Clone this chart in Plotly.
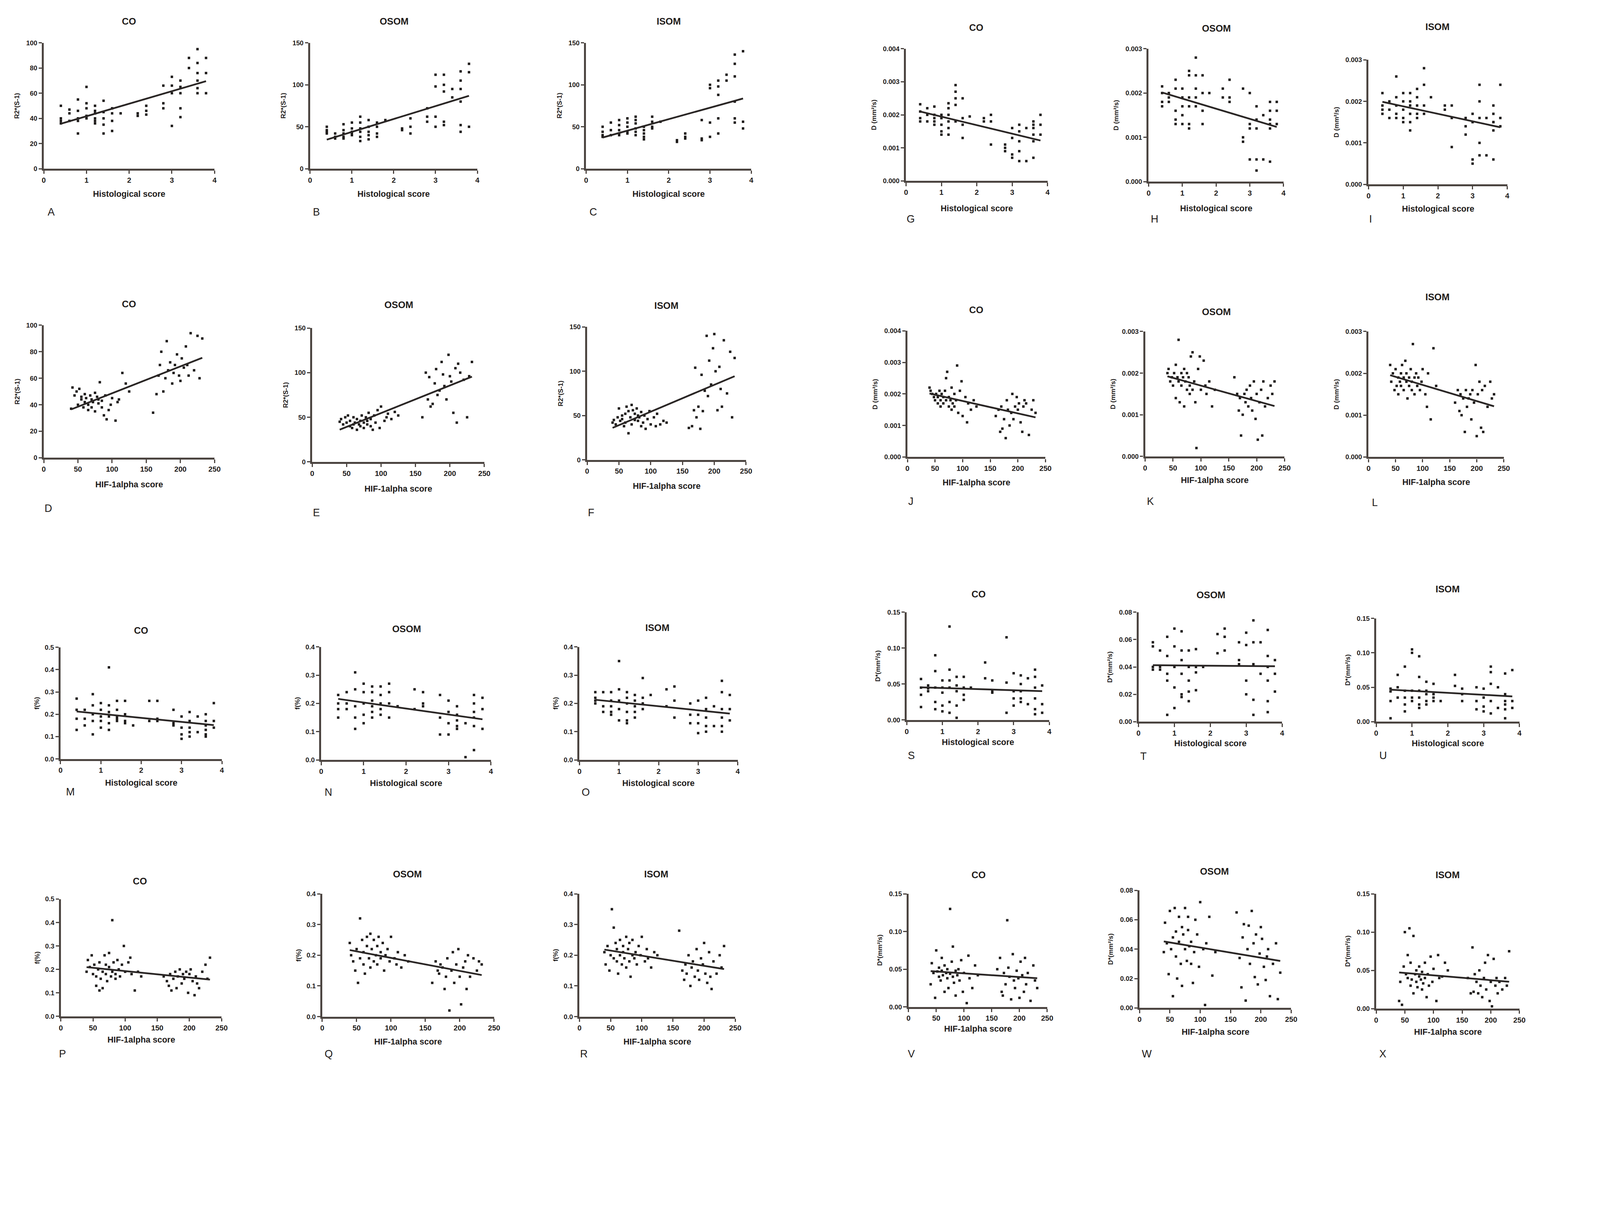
import numpy as np
import plotly.graph_objects as go

# x values shared by the panels: histological score (rows 1, 3) and HIF-1alpha score (rows 2, 4)
HIST = [0.4, 0.4, 0.4, 0.4, 0.6, 0.6, 0.6, 0.8, 0.8, 0.8, 0.8, 0.8,
        1.0, 1.0, 1.0, 1.0, 1.0, 1.2, 1.2, 1.2, 1.2, 1.2, 1.2,
        1.4, 1.4, 1.4, 1.4, 1.4, 1.6, 1.6, 1.6, 1.6, 1.8, 2.2, 2.2,
        2.4, 2.4, 2.4, 2.8, 2.8, 2.8, 3.0, 3.0, 3.0, 3.0,
        3.2, 3.2, 3.2, 3.2, 3.2, 3.4, 3.4, 3.6, 3.6, 3.6, 3.6, 3.6, 3.6,
        3.8, 3.8, 3.8]
HIF = [40, 42, 45, 48, 50, 52, 55, 55, 58, 60, 60, 62, 65, 65, 68, 70, 70, 72, 75, 75,
       78, 80, 80, 82, 85, 85, 88, 90, 92, 95, 98, 100, 105, 108, 110, 115, 120, 125,
       160, 165, 168, 170, 172, 175, 178, 180, 182, 185, 188, 190, 192, 195, 198, 200,
       202, 205, 208, 210, 212, 215, 220, 225, 228, 232]

# R2* (s-1)
R2_CO_HIST = [50, 40, 38, 36, 47, 44, 38, 55, 46, 40, 38, 28, 65, 52, 48, 42, 40,
              50, 46, 44, 40, 38, 36, 54, 45, 40, 35, 28, 48, 44, 38, 30, 44, 44, 42,
              50, 46, 43, 66, 52, 48, 73, 66, 60, 34, 70, 65, 60, 48, 41, 88, 80,
              95, 84, 76, 70, 64, 60, 88, 76, 60]
R2_OSOM_HIST = [50, 46, 44, 42, 42, 38, 36, 53, 46, 42, 38, 36, 55, 48, 44, 42, 40,
                62, 55, 48, 44, 38, 33, 58, 50, 44, 40, 35, 55, 50, 42, 38, 58, 48, 46,
                60, 50, 42, 72, 62, 56, 112, 98, 62, 50, 112, 100, 92, 56, 52, 95, 85,
                116, 105, 95, 80, 52, 44, 125, 115, 50]
R2_ISOM_HIST = [50, 44, 40, 38, 55, 46, 40, 58, 52, 46, 42, 40, 60, 55, 50, 44, 42,
                62, 58, 54, 48, 44, 40, 50, 46, 42, 38, 35, 62, 56, 50, 48, 56, 34, 32,
                42, 38, 36, 58, 36, 34, 100, 96, 55, 38, 105, 98, 88, 60, 42, 112, 105,
                136, 125, 110, 80, 60, 55, 140, 56, 48]
R2_CO_HIF = [37, 53, 47, 50, 40, 52, 44, 46, 38, 48, 42, 45, 36, 40, 47, 44, 38, 42, 49, 35,
             46, 41, 44, 57, 43, 38, 32, 47, 29, 36, 40, 45, 28, 42, 44, 64, 56, 50,
             34, 48, 62, 70, 80, 50, 60, 88, 66, 72, 56, 64, 70, 78, 62, 58, 75, 68, 84, 70,
             62, 94, 66, 92, 60, 90]
R2_OSOM_HIF = [45, 48, 42, 50, 44, 52, 40, 46, 38, 42, 50, 44, 36, 48, 42, 46, 40, 52, 44, 38,
               50, 46, 42, 55, 48, 40, 36, 52, 44, 58, 38, 62, 46, 50, 54, 48, 56, 52,
               50, 100, 70, 95, 62, 65, 88, 104, 75, 80, 112, 98, 85, 70, 120, 96, 90, 55,
               105, 44, 110, 100, 92, 50, 96, 112]
R2_ISOM_HIF = [42, 45, 40, 48, 58, 44, 50, 46, 38, 52, 42, 60, 30, 55, 48, 62, 40, 56, 52, 45,
               58, 50, 44, 48, 54, 38, 42, 50, 35, 46, 55, 40, 48, 38, 52, 40, 44, 42,
               36, 38, 56, 104, 48, 60, 35, 96, 55, 78, 140, 72, 112, 85, 126, 142, 100, 56,
               105, 80, 60, 135, 75, 122, 48, 115]

# D (mm2/s)
D_CO_HIST = [0.00232, 0.0021, 0.0019, 0.0018, 0.0022, 0.0020, 0.0018,
             0.00225, 0.0020, 0.0019, 0.0018, 0.0017, 0.0020, 0.0019, 0.0017, 0.0015, 0.0014,
             0.00235, 0.0022, 0.0020, 0.0018, 0.0016, 0.0014, 0.0029, 0.0027, 0.0025, 0.0023, 0.0018,
             0.0025, 0.0019, 0.0017, 0.0013, 0.00195, 0.0019, 0.0018, 0.0020, 0.0018, 0.0011,
             0.0011, 0.0010, 0.0009, 0.0016, 0.0013, 0.0008, 0.0007,
             0.0017, 0.0015, 0.0012, 0.0009, 0.0006, 0.0016, 0.0006,
             0.0018, 0.0017, 0.0016, 0.0014, 0.0012, 0.0007, 0.0020, 0.0017, 0.0014]
D_OSOM_HIST = [0.00215, 0.0020, 0.0018, 0.0017, 0.0020, 0.0019, 0.0018,
               0.0023, 0.0021, 0.0016, 0.0014, 0.0013, 0.0021, 0.0019, 0.0017, 0.0015, 0.0013,
               0.0025, 0.0024, 0.0019, 0.0017, 0.0013, 0.0012, 0.0028, 0.0024, 0.0021, 0.0019, 0.0017,
               0.0024, 0.0020, 0.0016, 0.0013, 0.0020, 0.0021, 0.0019, 0.0023, 0.0019, 0.0018,
               0.0021, 0.0010, 0.0009, 0.0020, 0.0013, 0.0012, 0.0005,
               0.0017, 0.0014, 0.0012, 0.0005, 0.00025, 0.0015, 0.0005,
               0.0018, 0.0016, 0.0014, 0.0013, 0.0012, 0.00045, 0.0018, 0.0016, 0.0013]
D_ISOM_HIST = [0.0022, 0.0019, 0.0018, 0.0017, 0.0020, 0.0018, 0.0016,
               0.0026, 0.0021, 0.0019, 0.0017, 0.0016, 0.0022, 0.0020, 0.0018, 0.0016, 0.0015,
               0.0022, 0.0020, 0.0019, 0.0017, 0.0015, 0.0013, 0.0023, 0.0021, 0.0019, 0.0017, 0.0016,
               0.0028, 0.0024, 0.0019, 0.0017, 0.0021, 0.0019, 0.0018, 0.0019, 0.0016, 0.0009,
               0.0016, 0.0014, 0.0012, 0.0017, 0.0015, 0.0006, 0.0005,
               0.0024, 0.0020, 0.0016, 0.0010, 0.0007, 0.0016, 0.0007,
               0.0019, 0.0017, 0.0015, 0.0015, 0.0013, 0.0006, 0.0024, 0.0016, 0.0014]
D_CO_HIF = [0.0022, 0.0021, 0.0020, 0.0019, 0.0018, 0.0020, 0.0017, 0.0019, 0.0021, 0.0018,
            0.0016, 0.0020, 0.0019, 0.0017, 0.0021, 0.0018, 0.0025, 0.0027, 0.0016, 0.0019,
            0.0018, 0.0022, 0.0015, 0.0017, 0.0020, 0.0016, 0.0018, 0.0029, 0.0014, 0.0021,
            0.0024, 0.0013, 0.0019, 0.0011, 0.0017, 0.0015, 0.0018, 0.0016,
            0.0013, 0.0015, 0.0008, 0.0016, 0.0009, 0.0012, 0.0006, 0.0018, 0.0015, 0.0010,
            0.0014, 0.0020, 0.0012, 0.0016, 0.0019, 0.0015, 0.0017, 0.0011, 0.0008, 0.0016,
            0.0018, 0.0017, 0.0007, 0.0015, 0.0018, 0.0014]
D_OSOM_HIF = [0.0020, 0.0021, 0.0018, 0.0019, 0.0017, 0.0020, 0.0014, 0.0022, 0.0019, 0.0028,
              0.0018, 0.0013, 0.0020, 0.0017, 0.0019, 0.0012, 0.0021, 0.0018, 0.0016, 0.0020,
              0.0019, 0.0017, 0.0015, 0.0024, 0.0016, 0.0025, 0.0018, 0.0013, 0.0002, 0.0021,
              0.0024, 0.0016, 0.0023, 0.0017, 0.0015, 0.0018, 0.0012, 0.0016,
              0.0019, 0.0015, 0.0011, 0.0014, 0.0005, 0.0010, 0.0015, 0.0013, 0.0016, 0.0012,
              0.0017, 0.0014, 0.0011, 0.0018, 0.0009, 0.0015, 0.0004, 0.0013, 0.0016, 0.0005,
              0.0018, 0.0012, 0.0014, 0.0017, 0.0015, 0.0018]
D_ISOM_HIF = [0.0022, 0.0018, 0.0020, 0.0016, 0.0021, 0.0017, 0.0019, 0.0015, 0.0018, 0.0020,
              0.0017, 0.0022, 0.0019, 0.0016, 0.0023, 0.0018, 0.0020, 0.0014, 0.0017, 0.0019,
              0.0021, 0.0016, 0.0018, 0.0027, 0.0019, 0.0015, 0.0020, 0.0017, 0.0019, 0.0016,
              0.0018, 0.0021, 0.0015, 0.0012, 0.0020, 0.0009, 0.0026, 0.0017,
              0.0013, 0.0016, 0.0011, 0.0015, 0.0010, 0.0014, 0.0006, 0.0016, 0.0012, 0.0014,
              0.0015, 0.0009, 0.0016, 0.0013, 0.0022, 0.0005, 0.0015, 0.0018, 0.0007, 0.0016,
              0.0006, 0.0017, 0.0012, 0.0018, 0.0014, 0.0015]

# f (%)
F_CO_HIST = [0.27, 0.22, 0.18, 0.13, 0.22, 0.18, 0.15, 0.29, 0.24, 0.20, 0.17, 0.11,
             0.25, 0.22, 0.19, 0.17, 0.14, 0.41, 0.24, 0.21, 0.19, 0.16, 0.13,
             0.26, 0.22, 0.19, 0.18, 0.17, 0.26, 0.20, 0.17, 0.16, 0.15, 0.26, 0.17,
             0.26, 0.18, 0.17, 0.22, 0.16, 0.15, 0.19, 0.14, 0.11, 0.09,
             0.21, 0.17, 0.14, 0.12, 0.10, 0.19, 0.12, 0.20, 0.17, 0.15, 0.13, 0.11, 0.10,
             0.25, 0.17, 0.14]
F_OSOM_HIST = [0.23, 0.20, 0.18, 0.15, 0.24, 0.20, 0.18, 0.31, 0.25, 0.19, 0.15, 0.11,
               0.27, 0.24, 0.20, 0.16, 0.13, 0.26, 0.24, 0.21, 0.19, 0.17, 0.15,
               0.26, 0.23, 0.20, 0.18, 0.16, 0.27, 0.24, 0.20, 0.15, 0.19, 0.25, 0.18,
               0.24, 0.20, 0.19, 0.23, 0.15, 0.09, 0.21, 0.17, 0.13, 0.09,
               0.19, 0.16, 0.14, 0.12, 0.11, 0.13, 0.01, 0.23, 0.20, 0.17, 0.15, 0.12, 0.035,
               0.22, 0.18, 0.11]
F_ISOM_HIST = [0.24, 0.22, 0.21, 0.20, 0.24, 0.19, 0.17, 0.24, 0.21, 0.19, 0.17, 0.16,
               0.35, 0.25, 0.21, 0.18, 0.14, 0.24, 0.22, 0.20, 0.17, 0.14, 0.13,
               0.23, 0.21, 0.19, 0.17, 0.15, 0.29, 0.22, 0.20, 0.18, 0.23, 0.25, 0.19,
               0.26, 0.21, 0.15, 0.20, 0.16, 0.13, 0.21, 0.16, 0.13, 0.095,
               0.22, 0.18, 0.15, 0.12, 0.10, 0.19, 0.12, 0.28, 0.24, 0.18, 0.15, 0.12, 0.10,
               0.23, 0.18, 0.14]
F_CO_HIF = [0.19, 0.24, 0.21, 0.26, 0.18, 0.22, 0.17, 0.13, 0.20, 0.11, 0.23, 0.16, 0.19, 0.12,
            0.26, 0.18, 0.22, 0.15, 0.27, 0.21, 0.17, 0.41, 0.19, 0.23, 0.16, 0.18, 0.24, 0.20,
            0.17, 0.22, 0.30, 0.19, 0.23, 0.25, 0.18, 0.11, 0.19, 0.17,
            0.17, 0.15, 0.13, 0.18, 0.11, 0.16, 0.19, 0.12, 0.17, 0.20, 0.14, 0.18, 0.16, 0.19,
            0.10, 0.18, 0.20, 0.15, 0.09, 0.17, 0.14, 0.12, 0.19, 0.22, 0.16, 0.25]
F_OSOM_HIF = [0.24, 0.20, 0.18, 0.15, 0.22, 0.11, 0.19, 0.32, 0.25, 0.17, 0.21, 0.14, 0.23, 0.26,
              0.19, 0.16, 0.27, 0.22, 0.18, 0.25, 0.20, 0.23, 0.17, 0.26, 0.19, 0.21, 0.24, 0.15,
              0.20, 0.22, 0.18, 0.26, 0.19, 0.17, 0.21, 0.16, 0.20, 0.18,
              0.11, 0.18, 0.15, 0.14, 0.17, 0.16, 0.09, 0.13, 0.19, 0.02, 0.15, 0.21, 0.11, 0.17,
              0.22, 0.13, 0.04, 0.16, 0.18, 0.09, 0.20, 0.13, 0.19, 0.15, 0.18, 0.17]
F_ISOM_HIF = [0.21, 0.17, 0.23, 0.15, 0.20, 0.35, 0.19, 0.29, 0.24, 0.18, 0.22, 0.14, 0.25, 0.20,
              0.17, 0.23, 0.21, 0.19, 0.26, 0.16, 0.22, 0.24, 0.18, 0.13, 0.20, 0.25, 0.19, 0.21,
              0.17, 0.23, 0.20, 0.26, 0.18, 0.22, 0.19, 0.16, 0.21, 0.20,
              0.28, 0.15, 0.12, 0.17, 0.14, 0.20, 0.10, 0.16, 0.18, 0.13, 0.22, 0.15, 0.12, 0.19,
              0.17, 0.24, 0.14, 0.11, 0.21, 0.13, 0.09, 0.18, 0.14, 0.20, 0.16, 0.23]

# D* (mm2/s)
DS_CO_HIST = [0.057, 0.045, 0.035, 0.018, 0.048, 0.044, 0.040, 0.090, 0.068, 0.045, 0.025, 0.015,
              0.055, 0.045, 0.038, 0.020, 0.012, 0.130, 0.070, 0.055, 0.045, 0.025, 0.010,
              0.060, 0.048, 0.040, 0.020, 0.003, 0.060, 0.045, 0.035, 0.028, 0.045, 0.080, 0.058,
              0.055, 0.040, 0.038, 0.115, 0.052, 0.010, 0.065, 0.040, 0.030, 0.020,
              0.062, 0.050, 0.040, 0.030, 0.025, 0.058, 0.022, 0.070, 0.060, 0.045, 0.030, 0.015, 0.008,
              0.048, 0.022, 0.010]
DS_OSOM_HIST = [0.058, 0.055, 0.040, 0.038, 0.052, 0.040, 0.038, 0.062, 0.048, 0.035, 0.030, 0.005,
                0.068, 0.055, 0.040, 0.025, 0.010, 0.066, 0.052, 0.045, 0.035, 0.020, 0.018,
                0.052, 0.040, 0.030, 0.022, 0.015, 0.053, 0.040, 0.036, 0.023, 0.040, 0.064, 0.050,
                0.068, 0.062, 0.052, 0.058, 0.045, 0.042, 0.065, 0.056, 0.030, 0.020,
                0.074, 0.058, 0.042, 0.016, 0.005, 0.058, 0.035, 0.067, 0.048, 0.040, 0.030, 0.015, 0.007,
                0.045, 0.035, 0.022]
DS_ISOM_HIST = [0.048, 0.044, 0.030, 0.005, 0.068, 0.050, 0.035, 0.080, 0.045, 0.035, 0.025, 0.015,
                0.105, 0.100, 0.045, 0.035, 0.030, 0.095, 0.065, 0.045, 0.035, 0.025, 0.020,
                0.058, 0.045, 0.040, 0.030, 0.025, 0.055, 0.040, 0.035, 0.030, 0.030, 0.068, 0.052,
                0.048, 0.040, 0.030, 0.050, 0.030, 0.018, 0.048, 0.035, 0.022, 0.015,
                0.080, 0.072, 0.055, 0.030, 0.012, 0.050, 0.020, 0.070, 0.040, 0.030, 0.025, 0.018, 0.005,
                0.075, 0.030, 0.020]
DS_CO_HIF = [0.030, 0.058, 0.045, 0.012, 0.075, 0.047, 0.040, 0.052, 0.035, 0.048, 0.065, 0.042,
             0.020, 0.055, 0.045, 0.038, 0.050, 0.025, 0.044, 0.130, 0.060, 0.040, 0.080, 0.032,
             0.048, 0.015, 0.042, 0.050, 0.035, 0.062, 0.020, 0.045, 0.005, 0.068, 0.038, 0.025,
             0.055, 0.042,
             0.050, 0.065, 0.020, 0.015, 0.045, 0.030, 0.115, 0.052, 0.040, 0.010, 0.070, 0.035,
             0.025, 0.048, 0.038, 0.012, 0.060, 0.042, 0.020, 0.065, 0.030, 0.045, 0.008, 0.055,
             0.035, 0.025]
DS_OSOM_HIF = [0.038, 0.058, 0.044, 0.023, 0.066, 0.040, 0.008, 0.048, 0.068, 0.035, 0.052, 0.020,
               0.062, 0.045, 0.030, 0.055, 0.015, 0.050, 0.040, 0.068, 0.032, 0.053, 0.062, 0.042,
               0.030, 0.045, 0.017, 0.038, 0.060, 0.050, 0.028, 0.072, 0.040, 0.002, 0.044, 0.062,
               0.022, 0.038,
               0.065, 0.034, 0.014, 0.048, 0.057, 0.005, 0.040, 0.056, 0.030, 0.066, 0.044, 0.021,
               0.050, 0.016, 0.037, 0.055, 0.047, 0.028, 0.019, 0.035, 0.040, 0.008, 0.030, 0.044,
               0.006, 0.024]
DS_ISOM_HIF = [0.010, 0.035, 0.005, 0.055, 0.100, 0.045, 0.070, 0.040, 0.105, 0.030, 0.060, 0.038,
               0.020, 0.095, 0.045, 0.035, 0.050, 0.028, 0.042, 0.055, 0.038, 0.025, 0.048, 0.033,
               0.060, 0.040, 0.015, 0.045, 0.030, 0.068, 0.035, 0.052, 0.010, 0.070, 0.040, 0.042,
               0.060, 0.050,
               0.040, 0.020, 0.080, 0.022, 0.045, 0.035, 0.020, 0.050, 0.030, 0.015, 0.040, 0.060,
               0.025, 0.070, 0.010, 0.035, 0.003, 0.065, 0.030, 0.040, 0.020, 0.035, 0.025, 0.040,
               0.030, 0.075]

# y label, tick format, distance of the y label from the axis (picture px)
Y_R2 = ("R2*(S-1)", "", 76)
Y_D = ("D (mm²/s)", ".3f", 92)
Y_F = ("f(%)", ".1f", 68)
Y_DS = ("D*(mm²/s)", ".2f", 82)

# letter, title, x, y, ymax, dtick, quantity
PANELS = [
    ("A", "CO", HIST, R2_CO_HIST, 100, 20, Y_R2),
    ("B", "OSOM", HIST, R2_OSOM_HIST, 150, 50, Y_R2),
    ("C", "ISOM", HIST, R2_ISOM_HIST, 150, 50, Y_R2),
    ("D", "CO", HIF, R2_CO_HIF, 100, 20, Y_R2),
    ("E", "OSOM", HIF, R2_OSOM_HIF, 150, 50, Y_R2),
    ("F", "ISOM", HIF, R2_ISOM_HIF, 150, 50, Y_R2),
    ("G", "CO", HIST, D_CO_HIST, 0.004, 0.001, Y_D),
    ("H", "OSOM", HIST, D_OSOM_HIST, 0.003, 0.001, Y_D),
    ("I", "ISOM", HIST, D_ISOM_HIST, 0.003, 0.001, Y_D),
    ("J", "CO", HIF, D_CO_HIF, 0.004, 0.001, Y_D),
    ("K", "OSOM", HIF, D_OSOM_HIF, 0.003, 0.001, Y_D),
    ("L", "ISOM", HIF, D_ISOM_HIF, 0.003, 0.001, Y_D),
    ("M", "CO", HIST, F_CO_HIST, 0.5, 0.1, Y_F),
    ("N", "OSOM", HIST, F_OSOM_HIST, 0.4, 0.1, Y_F),
    ("O", "ISOM", HIST, F_ISOM_HIST, 0.4, 0.1, Y_F),
    ("P", "CO", HIF, F_CO_HIF, 0.5, 0.1, Y_F),
    ("Q", "OSOM", HIF, F_OSOM_HIF, 0.4, 0.1, Y_F),
    ("R", "ISOM", HIF, F_ISOM_HIF, 0.4, 0.1, Y_F),
    ("S", "CO", HIST, DS_CO_HIST, 0.15, 0.05, Y_DS),
    ("T", "OSOM", HIST, DS_OSOM_HIST, 0.08, 0.02, Y_DS),
    ("U", "ISOM", HIST, DS_ISOM_HIST, 0.15, 0.05, Y_DS),
    ("V", "CO", HIF, DS_CO_HIF, 0.15, 0.05, Y_DS),
    ("W", "OSOM", HIF, DS_OSOM_HIF, 0.08, 0.02, Y_DS),
    ("X", "ISOM", HIF, DS_ISOM_HIF, 0.15, 0.05, Y_DS),
]

# pixel boxes (in the 4550x3086 picture): plot left, right, top, bottom; title x,y; x label y; letter x,y
BOX = {
    "A": (120, 610, 113, 475, 364, 51, 548, 129, 600),
    "B": (884, 1364, 113, 475, 1125, 51, 548, 890, 600),
    "C": (1676, 2150, 113, 475, 1913, 51, 548, 1683, 600),
    "D": (120, 610, 925, 1306, 364, 864, 1383, 120, 1452),
    "E": (890, 1384, 933, 1318, 1139, 866, 1395, 890, 1464),
    "F": (1679, 2135, 930, 1312, 1906, 868, 1388, 1679, 1464),
    "G": (2594, 3000, 130, 510, 2795, 69, 589, 2594, 620),
    "H": (3290, 3677, 130, 512, 3484, 71, 589, 3294, 620),
    "I": (3921, 4319, 162, 520, 4119, 67, 590, 3921, 620),
    "J": (2598, 2994, 941, 1304, 2795, 881, 1378, 2598, 1432),
    "K": (3280, 3680, 943, 1302, 3485, 886, 1371, 3283, 1432),
    "L": (3921, 4309, 943, 1304, 4119, 844, 1376, 3928, 1435),
    "M": (168, 631, 1851, 2172, 399, 1802, 2241, 182, 2267),
    "N": (916, 1403, 1850, 2175, 1161, 1798, 2242, 924, 2268),
    "O": (1657, 2111, 1850, 2175, 1881, 1795, 2242, 1661, 2268),
    "P": (169, 630, 2575, 2912, 396, 2523, 2980, 161, 3020),
    "Q": (919, 1412, 2560, 2913, 1163, 2503, 2985, 924, 3020),
    "R": (1657, 2104, 2560, 2913, 1877, 2503, 2985, 1657, 3020),
    "S": (2596, 3005, 1750, 2060, 2802, 1698, 2124, 2597, 2162),
    "T": (3261, 3673, 1750, 2065, 3469, 1700, 2128, 3264, 2165),
    "U": (3943, 4354, 1768, 2065, 4148, 1683, 2127, 3950, 2162),
    "V": (2601, 2999, 2560, 2885, 2802, 2505, 2948, 2597, 3020),
    "W": (3264, 3699, 2550, 2888, 3479, 2495, 2957, 3268, 3020),
    "X": (3943, 4354, 2560, 2890, 4148, 2505, 2957, 3950, 3020),
}

W, H = 4550, 3086
SCALE = 1.115          # page px -> picture px, as seen in the rendered screenshot
MARGIN = 8             # default body margin of the page
WF = int(W / SCALE) - 2 * MARGIN
HF = int(H / SCALE) - 2 * MARGIN
AX = "#4b4440"
INK = "#1e1b1a"
FONT = "Liberation Sans, Arial, sans-serif"


def px(x):
    return (x / SCALE - MARGIN) / WF


def py(y):
    return 1 - (y / SCALE - MARGIN) / HF


def sz(v):
    return v / SCALE


def label(x, y, text, size, bold=True, xanchor="center", angle=0):
    font = dict(family=FONT, size=sz(size), color=INK)
    if bold:
        font["weight"] = "bold"
    return dict(x=px(x), y=py(y), xref="paper", yref="paper", text=text, showarrow=False,
                xanchor=xanchor, yanchor="middle", textangle=angle, font=font)


fig = go.Figure()
annotations = []
layout_axes = {}

for n, (letter, title, xs, ys, ymax, dtick, quant) in enumerate(PANELS, start=1):
    assert len(xs) == len(ys), letter
    l, r, t, b, tx, ty, xly, lx, ly = BOX[letter]
    xname = "x" if n == 1 else f"x{n}"
    yname = "y" if n == 1 else f"y{n}"
    is_hist = xs is HIST
    xmax = 4 if is_hist else 250

    fig.add_trace(go.Scatter(
        x=xs, y=ys, mode="markers", xaxis=xname, yaxis=yname, cliponaxis=False,
        marker=dict(symbol="square", size=sz(7), color=INK, line=dict(width=0)),
        showlegend=False))

    # linear regression line over the data range
    k, c = np.polyfit(xs, ys, 1)
    xl = np.array([min(xs), max(xs)])
    fig.add_trace(go.Scatter(
        x=xl, y=k * xl + c, mode="lines", xaxis=xname, yaxis=yname,
        line=dict(color="#2a2625", width=sz(5)), showlegend=False))

    common = dict(showline=True, linecolor=AX, linewidth=sz(6), ticks="outside", ticklen=sz(9),
                  tickwidth=sz(3), tickcolor=AX, showgrid=False, zeroline=False)
    layout_axes["xaxis" if n == 1 else f"xaxis{n}"] = dict(
        domain=[px(l), px(r)], range=[0, xmax], dtick=1 if is_hist else 50, anchor=yname,
        tickfont=dict(family=FONT, size=sz(21), color=INK, weight="bold"), **common)
    layout_axes["yaxis" if n == 1 else f"yaxis{n}"] = dict(
        domain=[py(b), py(t)], range=[0, ymax], dtick=dtick, tickformat=quant[1], anchor=xname,
        tickfont=dict(family=FONT, size=sz(19), color=INK, weight="bold"), **common)

    # panel title, axis titles and panel letter
    annotations.append(label(tx, ty, title, 27))
    annotations.append(label((l + r) / 2, xly,
                             "Histological score" if is_hist else "HIF-1alpha score", 24))
    annotations.append(label(l - quant[2], (t + b) / 2, quant[0], 19, angle=-90))
    annotations.append(label(lx, ly, letter, 30, bold=False, xanchor="left"))

fig.update_layout(
    width=WF, height=HF, autosize=False,
    margin=dict(l=0, r=0, t=0, b=0),
    paper_bgcolor="white", plot_bgcolor="white",
    annotations=annotations,
    **layout_axes,
)

fig.write_html("out.html")
